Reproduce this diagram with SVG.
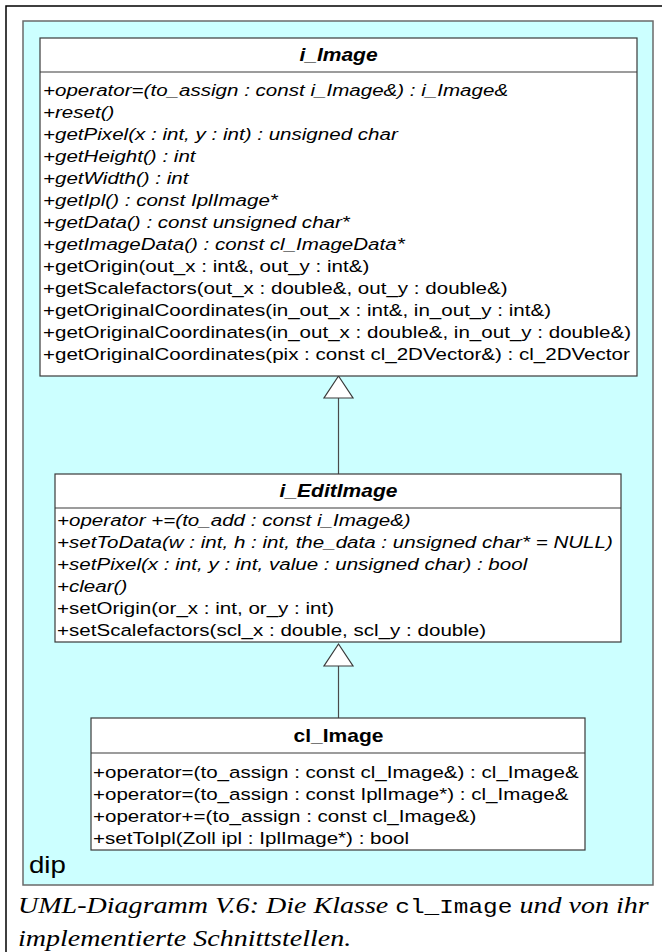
<svg xmlns="http://www.w3.org/2000/svg" width="662" height="952" viewBox="0 0 662 952">
<style>
.frame{fill:none;stroke:#000;stroke-width:1.5}
.pkg{fill:#ccffff;stroke:#6a6a6a;stroke-width:1.5}
.box{fill:#fff;stroke:#3a3a3a;stroke-width:1.2}
.div{stroke:#3a3a3a;stroke-width:1.2}
.t{font-family:"Liberation Sans",Arial,sans-serif;font-size:17px;fill:#000}
.it{font-style:italic}
.title{font-family:"Liberation Sans",Arial,sans-serif;font-size:17.5px;font-weight:bold;fill:#000;text-anchor:middle}
.conn{stroke:#4a4a4a;stroke-width:1.2;fill:none}
.tri{fill:#fff;stroke:#3a3a3a;stroke-width:1.2}
.cap{font-family:"Liberation Serif","Times New Roman",serif;font-size:23px;font-style:italic;fill:#000}
.mono{font-family:"Liberation Mono","Courier New",monospace;font-style:normal;font-size:20px}
.pkgname{font-family:"Liberation Sans",Arial,sans-serif;font-size:23px;fill:#000}
</style>
<path class="frame" d="M6,952 V6 H662"/>
<g id="package-dip">
<rect class="pkg" x="23" y="21" width="630" height="864"/>
<text class="pkgname" transform="translate(29,873) scale(1.2,1)" x="0" y="0">dip</text>
</g>
<g id="connectors">
<line class="conn" x1="338.5" y1="398" x2="338.5" y2="474"/>
<polygon class="tri" points="338.5,376 324,398 353,398"/>
<line class="conn" x1="338.5" y1="666" x2="338.5" y2="718"/>
<polygon class="tri" points="338.5,644 324,666 353,666"/>
</g>
<g id="i_Image">
<rect class="box" x="40" y="38" width="597" height="338"/>
<line class="div" x1="40" y1="72" x2="637" y2="72"/>
<text class="title it" transform="translate(338.5,61) scale(1.2,1)" x="0" y="0">i_Image</text>
<g transform="translate(43,0) scale(1.21,1)">
<text class="t it" x="0" y="96">+operator=(to_assign : const i_Image&amp;) : i_Image&amp;</text>
<text class="t it" x="0" y="118">+reset()</text>
<text class="t it" x="0" y="140">+getPixel(x : int, y : int) : unsigned char</text>
<text class="t it" x="0" y="162">+getHeight() : int</text>
<text class="t it" x="0" y="184">+getWidth() : int</text>
<text class="t it" x="0" y="206">+getIpl() : const IplImage*</text>
<text class="t it" x="0" y="228">+getData() : const unsigned char*</text>
<text class="t it" x="0" y="250">+getImageData() : const cl_ImageData*</text>
<text class="t" x="0" y="272">+getOrigin(out_x : int&amp;, out_y : int&amp;)</text>
<text class="t" x="0" y="294">+getScalefactors(out_x : double&amp;, out_y : double&amp;)</text>
<text class="t" x="0" y="316">+getOriginalCoordinates(in_out_x : int&amp;, in_out_y : int&amp;)</text>
<text class="t" x="0" y="338">+getOriginalCoordinates(in_out_x : double&amp;, in_out_y : double&amp;)</text>
<text class="t" x="0" y="360">+getOriginalCoordinates(pix : const cl_2DVector&amp;) : cl_2DVector</text>
</g>
</g>
<g id="i_EditImage">
<rect class="box" x="55" y="474" width="566" height="168"/>
<line class="div" x1="55" y1="508" x2="621" y2="508"/>
<text class="title it" transform="translate(338.5,497) scale(1.2,1)" x="0" y="0">i_EditImage</text>
<g transform="translate(57,0) scale(1.21,1)">
<text class="t it" x="0" y="526">+operator +=(to_add : const i_Image&amp;)</text>
<text class="t it" x="0" y="548">+setToData(w : int, h : int, the_data : unsigned char* = NULL)</text>
<text class="t it" x="0" y="570">+setPixel(x : int, y : int, value : unsigned char) : bool</text>
<text class="t it" x="0" y="592">+clear()</text>
<text class="t" x="0" y="614">+setOrigin(or_x : int, or_y : int)</text>
<text class="t" x="0" y="636">+setScalefactors(scl_x : double, scl_y : double)</text>
</g>
</g>
<g id="cl_Image">
<rect class="box" x="91" y="718" width="494" height="132"/>
<line class="div" x1="91" y1="753" x2="585" y2="753"/>
<text class="title" transform="translate(338.5,742) scale(1.2,1)" x="0" y="0">cl_Image</text>
<g transform="translate(93,0) scale(1.21,1)">
<text class="t" x="0" y="778">+operator=(to_assign : const cl_Image&amp;) : cl_Image&amp;</text>
<text class="t" x="0" y="800">+operator=(to_assign : const IplImage*) : cl_Image&amp;</text>
<text class="t" x="0" y="822">+operator+=(to_assign : const cl_Image&amp;)</text>
<text class="t" x="0" y="844">+setToIpl(Zoll ipl : IplImage*) : bool</text>
</g>
</g>
<g id="caption">
<g transform="translate(18,0) scale(1.22,1)">
<text class="cap" x="0" y="913">UML-Diagramm V.6: Die Klasse <tspan class="mono">cl_Image</tspan> und von ihr</text>
<text class="cap" x="0" y="946">implementierte Schnittstellen.</text>
</g>
</g>
</svg>
